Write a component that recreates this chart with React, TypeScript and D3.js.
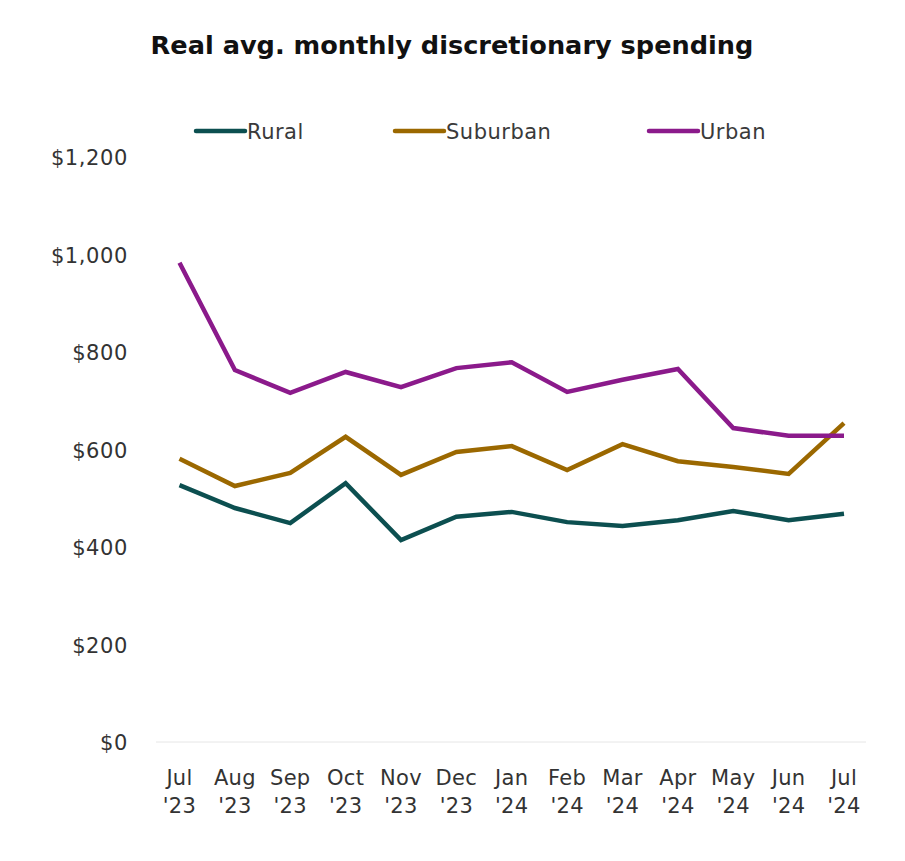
import React from "react";
import * as d3 from "d3";

const months = ["Jul", "Aug", "Sep", "Oct", "Nov", "Dec", "Jan", "Feb", "Mar", "Apr", "May", "Jun", "Jul"];
const years = ["'23", "'23", "'23", "'23", "'23", "'23", "'24", "'24", "'24", "'24", "'24", "'24", "'24"];
const rural = [527, 480, 449, 531, 414, 462, 472, 451, 443, 455, 474, 455, 468];
const suburban = [581, 525, 552, 626, 548, 595, 607, 558, 611, 576, 564, 550, 654];
const urban = [983, 763, 716, 759, 728, 767, 779, 718, 743, 765, 644, 628, 628];
const yTicks = [0, 200, 400, 600, 800, 1000, 1200];

const seriesNames = ["Rural", "Suburban", "Urban"];
const seriesValues = [rural, suburban, urban];
const seriesColors = ["#0c4f50", "#9b6800", "#8b1a8b"];

export default function App() {
  const W = 905, H = 861;
  const x = d3.scalePoint<number>().domain(d3.range(months.length)).range([179.5, 844]);
  const y = d3.scaleLinear().domain([0, 1200]).range([742, 157]);
  const line = d3.line<number>().x((_, i) => x(i)!).y((d) => y(d));
  const fmt = (v: number) => "$" + d3.format(",")(v);
  const font = "'DejaVu Sans', sans-serif";
  const legendX = [196, 395, 649];

  return (
    <svg width={W} height={H} style={{ position: "absolute", left: 0, top: 0, background: "#fff" }} fontFamily={font}>
      <text x={452} y={54} textAnchor="middle" fontSize={25.6} fontWeight={700} fill="#111">
        Real avg. monthly discretionary spending
      </text>
      {seriesNames.map((n, i) => (
        <g key={n}>
          <line x1={legendX[i]} x2={legendX[i] + 49} y1={131} y2={131} stroke={seriesColors[i]} strokeWidth={4.5} strokeLinecap="round" />
          <text x={legendX[i] + 51} y={139} fontSize={21} letterSpacing={0.5} fill="#3a3a3a">{n}</text>
        </g>
      ))}
      <line x1={156} x2={866} y1={y(0)} y2={y(0)} stroke="#e6e6e6" strokeWidth={1} />
      {yTicks.map((t) => (
        <text key={t} x={128} y={y(t) + 8} textAnchor="end" fontSize={21} letterSpacing={0.6} fill="#333">{fmt(t)}</text>
      ))}
      {months.map((m, i) => (
        <g key={i}>
          <text x={x(i)!} y={785} textAnchor="middle" fontSize={21} letterSpacing={0.3} fill="#333">{m}</text>
          <text x={x(i)!} y={813} textAnchor="middle" fontSize={21} letterSpacing={0.3} fill="#333">{years[i]}</text>
        </g>
      ))}
      {seriesValues.map((vals, i) => (
        <path key={i} d={line(vals)!} fill="none" stroke={seriesColors[i]} strokeWidth={4.5} strokeLinejoin="miter" />
      ))}
    </svg>
  );
}
